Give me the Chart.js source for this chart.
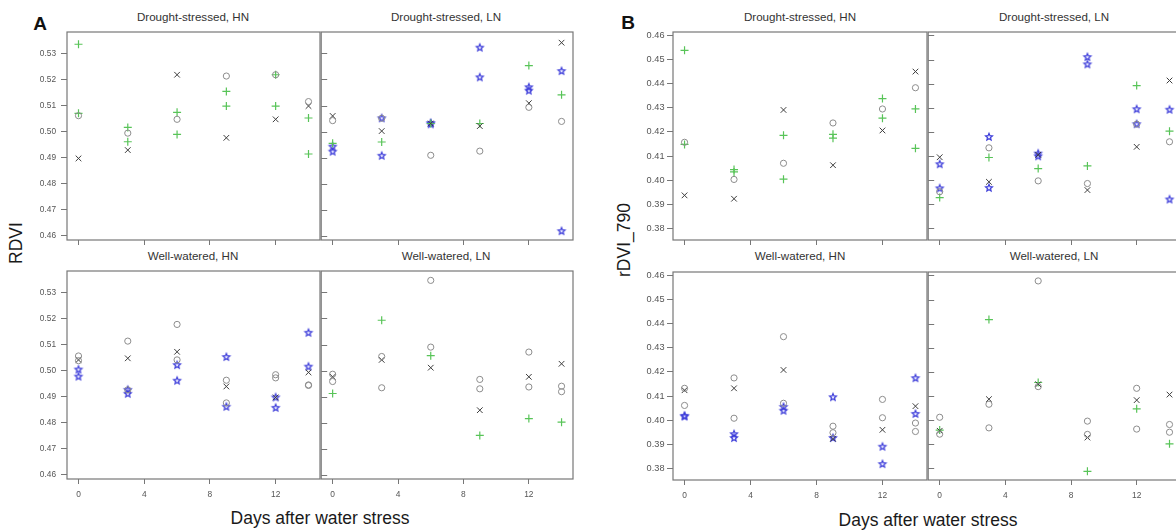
<!DOCTYPE html>
<html>
<head>
<meta charset="utf-8">
<script src="https://cdn.jsdelivr.net/npm/chart.js@4.4.1/dist/chart.umd.min.js"></script>
<style>
  html, body { margin: 0; padding: 0; background: #fff; }
  body { position: relative; width: 1176px; height: 532px; overflow: hidden; font-family: "Liberation Sans", Arial, sans-serif; }
  canvas { position: absolute; }
  .txt { position: absolute; white-space: nowrap; transform: translate(-50%, -50%); line-height: 1; }
  .strip { font-size: 11.6px; color: #333; }
  .axt { font-size: 17.5px; color: #1a1a1a; }
  .rot { transform: translate(-50%, -50%) rotate(-90deg); }
  .tag { font-size: 19px; font-weight: bold; color: #111; }
</style>
</head>
<body>

<div class="txt tag" style="left:40px;top:23px">A</div>
<div class="txt tag" style="left:628px;top:22px">B</div>

<div class="txt strip" style="left:193px;top:17px">Drought-stressed, HN</div>
<div class="txt strip" style="left:446px;top:17px">Drought-stressed, LN</div>
<div class="txt strip" style="left:193px;top:255.5px">Well-watered, HN</div>
<div class="txt strip" style="left:446px;top:255.5px">Well-watered, LN</div>
<div class="txt strip" style="left:800px;top:17px">Drought-stressed, HN</div>
<div class="txt strip" style="left:1054px;top:17px">Drought-stressed, LN</div>
<div class="txt strip" style="left:800px;top:256px">Well-watered, HN</div>
<div class="txt strip" style="left:1054px;top:256px">Well-watered, LN</div>

<div class="txt axt" style="left:320px;top:519px">Days after water stress</div>
<div class="txt axt" style="left:928px;top:521px">Days after water stress</div>
<div class="txt axt rot" style="left:17px;top:243px">RDVI</div>
<div class="txt axt rot" style="left:625px;top:240px">rDVI_790</div>

<script>
// Sampling days and axis ticks
const DAYS = [0, 3, 6, 9, 12, 14];
const DAY_TICKS = [0, 4, 8, 12];
const RDVI_TICKS = [0.46, 0.47, 0.48, 0.49, 0.50, 0.51, 0.52, 0.53];
const RDVI790_TICKS = [0.38, 0.39, 0.40, 0.41, 0.42, 0.43, 0.44, 0.45, 0.46];

// RDVI — one list of readings per sampling day
const rdviDsHnCross  = [[0.4897], [0.4929], [0.5218], [0.4976], [0.5047], [0.5098]];
const rdviDsHnCircle = [[0.5061], [0.4994], [0.5047], [0.5213], [0.5218], [0.5115]];
const rdviDsHnPlus   = [[0.5335, 0.5070], [0.5016, 0.4961], [0.5074, 0.4989], [0.5154, 0.5098], [0.5218, 0.5098], [0.5052, 0.4914]];
const rdviDsHnStar   = [[], [], [], [], [], []];

const rdviDsLnCross  = [[0.5060], [0.5002], [0.5031], [0.5021], [0.5109], [0.5341]];
const rdviDsLnCircle = [[0.5042], [0.5051], [0.4909], [0.4925], [0.5093], [0.5039]];
const rdviDsLnPlus   = [[0.4955], [0.4960], [0.5031], [0.5031], [0.5253], [0.5141]];
const rdviDsLnStar   = [[0.4942, 0.4923], [0.5051, 0.4907], [0.5033, 0.5028], [0.5322, 0.5208], [0.5170, 0.5157], [0.5232, 0.4618]];

const rdviWwHnCross  = [[0.5041], [0.5047], [0.5072], [0.4939], [0.4897], [0.4993]];
const rdviWwHnCircle = [[0.5056, 0.5038], [0.5113, 0.4926], [0.5177, 0.5041], [0.4963, 0.4876], [0.4984, 0.4972], [0.4943, 0.4945]];
const rdviWwHnPlus   = [[], [], [], [], [], []];
const rdviWwHnStar   = [[0.5004, 0.4977], [0.4926, 0.4911], [0.5021, 0.4961], [0.5052, 0.4861], [0.4897, 0.4857], [0.5145, 0.5015]];

const rdviWwLnCross  = [[0.4976], [0.5041], [0.5011], [0.4848], [0.4976], [0.5026]];
const rdviWwLnCircle = [[0.4986, 0.4958], [0.5054, 0.4934], [0.5346, 0.5090], [0.4966, 0.4930], [0.5071, 0.4937], [0.4940, 0.4919]];
const rdviWwLnPlus   = [[0.4912], [0.5193], [0.5057], [0.4751], [0.4816], [0.4802]];
const rdviWwLnStar   = [[], [], [], [], [], []];

// rDVI_790 — one list of readings per sampling day
const r790DsHnCross  = [[0.3937], [0.3923], [0.4291], [0.4062], [0.4206], [0.4450]];
const r790DsHnCircle = [[0.4157], [0.4003], [0.4070], [0.4237], [0.4295], [0.4383]];
const r790DsHnPlus   = [[0.4538, 0.4148], [0.4044, 0.4034], [0.4186, 0.4004], [0.4190, 0.4174], [0.4338, 0.4257], [0.4295, 0.4132]];
const r790DsHnStar   = [[], [], [], [], [], []];

const r790DsLnCross  = [[0.4095], [0.3993], [0.4105], [0.3959], [0.4138], [0.4413]];
const r790DsLnCircle = [[0.3952], [0.4134], [0.3997], [0.3986], [0.4232], [0.4159]];
const r790DsLnPlus   = [[0.3928], [0.4094], [0.4048], [0.4059], [0.4392], [0.4203]];
const r790DsLnStar   = [[0.4066, 0.3966], [0.4179, 0.3968], [0.4110, 0.4099], [0.4510, 0.4480], [0.4294, 0.4232], [0.4292, 0.3920]];

const r790WwHnCross  = [[0.4124], [0.4132], [0.4208], [0.3923], [0.3960], [0.4058]];
const r790WwHnCircle = [[0.4132, 0.4061], [0.4175, 0.4008], [0.4346, 0.4070], [0.3975, 0.3948], [0.4086, 0.4010], [0.3988, 0.3953]];
const r790WwHnPlus   = [[], [], [], [], [], []];
const r790WwHnStar   = [[0.4018, 0.4015], [0.3942, 0.3926], [0.4055, 0.4039], [0.4095, 0.3926], [0.3890, 0.3818], [0.4174, 0.4026]];

const r790WwLnCross  = [[0.3956], [0.4087], [0.4149], [0.3928], [0.4083], [0.4106]];
const r790WwLnCircle = [[0.4012, 0.3942], [0.4066, 0.3968], [0.4577, 0.4139], [0.3996, 0.3941], [0.4132, 0.3963], [0.3982, 0.3950]];
const r790WwLnPlus   = [[0.3959], [0.4417], [0.4156], [0.3788], [0.4047], [0.3902]];
const r790WwLnStar   = [[], [], [], [], [], []];

Chart.defaults.font.family = '"Liberation Sans", Arial, sans-serif';

// Outlined five-pointed star used as a point style
function makeStar(r, color) {
  const s = Math.ceil(r * 2 + 4);
  const c = document.createElement('canvas');
  c.width = s; c.height = s;
  const g = c.getContext('2d');
  g.translate(s / 2, s / 2);
  g.beginPath();
  for (let i = 0; i < 10; i++) {
    const rad = i % 2 ? r * 0.45 : r;
    const a = -Math.PI / 2 + i * Math.PI / 5;
    g.lineTo(rad * Math.cos(a), rad * Math.sin(a));
  }
  g.closePath();
  g.fillStyle = 'rgba(180,180,255,0.3)';
  g.fill();
  g.strokeStyle = color;
  g.lineWidth = 1.1;
  g.stroke();
  return c;
}
const STAR = makeStar(3.7, '#3838d8');

function toPoints(perDay) {
  const pts = [];
  perDay.forEach((vals, i) => vals.forEach(v => pts.push({ x: DAYS[i], y: v })));
  return pts;
}

// Panel frame plus inward ticks on interior facets
const framePlugin = {
  id: 'frame',
  afterDraw(chart, args, opts) {
    const { ctx, chartArea: a } = chart;
    ctx.save();
    ctx.strokeStyle = '#777';
    ctx.lineWidth = 1.2;
    ctx.strokeRect(a.left, a.top, a.right - a.left, a.bottom - a.top);
    if (opts.innerTicks) {
      const ys = chart.scales.y;
      ctx.lineWidth = 1;
      ys.ticks.forEach(t => {
        const py = Math.round(ys.getPixelForValue(t.value)) + 0.5;
        ctx.beginPath();
        ctx.moveTo(a.left, py);
        ctx.lineTo(a.left + 6, py);
        ctx.stroke();
      });
    }
    ctx.restore();
  }
};

function facet(f) {
  const padL = f.showY ? 50 : 4, padT = 10, padR = 10, padB = f.showX ? 30 : 12;
  const W = f.w + padL + padR, H = f.h + padT + padB;
  const cv = document.createElement('canvas');
  cv.width = W; cv.height = H;
  cv.style.left = (f.x - padL) + 'px';
  cv.style.top = (f.y - padT) + 'px';
  cv.style.width = W + 'px';
  cv.style.height = H + 'px';
  document.body.appendChild(cv);

  new Chart(cv, {
    type: 'scatter',
    data: {
      datasets: [
        { data: toPoints(f.circle), pointStyle: 'circle', pointRadius: 3.1, pointBorderWidth: 1,
          pointBorderColor: '#8c8c8c', pointBackgroundColor: 'rgba(0,0,0,0)' },
        { data: toPoints(f.cross), pointStyle: 'crossRot', pointRadius: 4, pointBorderWidth: 1,
          pointBorderColor: '#3d3d3d', pointBackgroundColor: 'rgba(0,0,0,0)' },
        { data: toPoints(f.plus), pointStyle: 'cross', pointRadius: 4, pointBorderWidth: 1.2,
          pointBorderColor: '#58c458', pointBackgroundColor: 'rgba(0,0,0,0)' },
        { data: toPoints(f.star), pointStyle: STAR, pointRadius: 4 }
      ]
    },
    options: {
      responsive: false,
      devicePixelRatio: 1,
      animation: false,
      events: [],
      layout: { padding: { top: padT, right: padR, left: 0, bottom: 0 } },
      plugins: { legend: { display: false }, tooltip: { enabled: false }, frame: { innerTicks: !f.showY } },
      scales: {
        x: {
          type: 'linear', min: -0.7, max: 14.7,
          afterBuildTicks: s => { s.ticks = DAY_TICKS.map(v => ({ value: v })); },
          afterFit: s => { s.height = padB; },
          border: { display: false },
          grid: { drawOnChartArea: false, drawTicks: true, tickLength: 5, color: '#777' },
          ticks: { display: f.showX, autoSkip: false, maxRotation: 0, padding: 6, color: '#555', font: { size: 8.4 } }
        },
        y: {
          type: 'linear', min: f.ymin, max: f.ymax,
          afterBuildTicks: s => { s.ticks = f.yticks.map(v => ({ value: v })); },
          afterFit: s => { s.width = padL; },
          border: { display: false },
          grid: { drawOnChartArea: false, drawTicks: f.showY, tickLength: 6, color: '#777' },
          ticks: { display: f.showY, autoSkip: false, padding: f.ypad, color: '#555',
                   font: { size: f.yfont }, callback: v => Number(v).toFixed(2) }
        }
      }
    },
    plugins: [framePlugin]
  });
}

const A_RANGE = { ymin: 0.4584, ymax: 0.5382, yticks: RDVI_TICKS, yfont: 8.3, ypad: 5 };
const B_RANGE = { ymin: 0.3752, ymax: 0.4614, yticks: RDVI790_TICKS, yfont: 9.2, ypad: 2.5 };

const facets = [
  Object.assign({ x: 67,  y: 32,  w: 253, h: 208, showY: true,  showX: false, cross: rdviDsHnCross, circle: rdviDsHnCircle, plus: rdviDsHnPlus, star: rdviDsHnStar }, A_RANGE),
  Object.assign({ x: 320, y: 32,  w: 253, h: 208, showY: false, showX: false, cross: rdviDsLnCross, circle: rdviDsLnCircle, plus: rdviDsLnPlus, star: rdviDsLnStar }, A_RANGE),
  Object.assign({ x: 67,  y: 271, w: 253, h: 208, showY: true,  showX: true,  cross: rdviWwHnCross, circle: rdviWwHnCircle, plus: rdviWwHnPlus, star: rdviWwHnStar }, A_RANGE),
  Object.assign({ x: 320, y: 271, w: 253, h: 208, showY: false, showX: true,  cross: rdviWwLnCross, circle: rdviWwLnCircle, plus: rdviWwLnPlus, star: rdviWwLnStar }, A_RANGE),
  Object.assign({ x: 673, y: 32,  w: 254, h: 208, showY: true,  showX: false, cross: r790DsHnCross, circle: r790DsHnCircle, plus: r790DsHnPlus, star: r790DsHnStar }, B_RANGE),
  Object.assign({ x: 927, y: 32,  w: 254, h: 208, showY: false, showX: false, cross: r790DsLnCross, circle: r790DsLnCircle, plus: r790DsLnPlus, star: r790DsLnStar }, B_RANGE),
  Object.assign({ x: 673, y: 272, w: 254, h: 208, showY: true,  showX: true,  cross: r790WwHnCross, circle: r790WwHnCircle, plus: r790WwHnPlus, star: r790WwHnStar }, B_RANGE),
  Object.assign({ x: 927, y: 272, w: 254, h: 208, showY: false, showX: true,  cross: r790WwLnCross, circle: r790WwLnCircle, plus: r790WwLnPlus, star: r790WwLnStar }, B_RANGE)
];

facets.forEach(facet);
</script>
</body>
</html>
